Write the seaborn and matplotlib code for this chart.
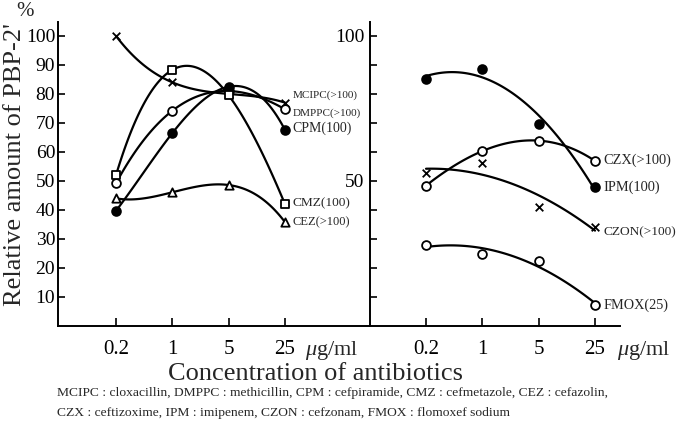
import numpy as np
import pandas as pd
import matplotlib
matplotlib.use("Agg")
import matplotlib.pyplot as plt
import seaborn as sns

# ---------------- data ----------------
conc = [0.2, 1, 5, 25]
conc_labels = ["0.2", "1", "5", "25"]

# left panel
mcipc = [100.0, 84.0, 80.0, 77.0]
dmppc = [49.2, 74.2, 81.0, 74.7]
cpm = [39.7, 66.5, 82.5, 67.6]
cmz = [52.0, 88.3, 79.5, 42.0]
cez = [44.0, 46.1, 48.6, 35.8]

# right panel
ipm = [85.2, 88.6, 69.7, 47.8]
czx = [48.4, 60.3, 63.9, 56.9]
czon = [52.9, 56.1, 41.1, 34.2]
fmox = [27.9, 24.8, 22.4, 7.2]

left_names = ["MCIPC(>100)", "DMPPC(>100)", "CPM(100)", "CMZ(100)", "CEZ(>100)"]
right_names = ["CZX(>100)", "IPM(100)", "CZON(>100)", "FMOX(25)"]

yticks = [10, 20, 30, 40, 50, 60, 70, 80, 90, 100]

footnote1 = ("MCIPC : cloxacillin, DMPPC : methicillin, CPM : cefpiramide, "
             "CMZ : cefmetazole, CEZ : cefazolin,")
footnote2 = "CZX : ceftizoxime, IPM : imipenem, CZON : cefzonam, FMOX : flomoxef sodium"

# ---------------- style ----------------
sns.set_theme(style="ticks")
plt.rcParams["font.family"] = ["Liberation Serif", "DejaVu Serif"]
plt.rcParams["mathtext.fontset"] = "custom"
plt.rcParams["mathtext.rm"] = "Liberation Serif"
plt.rcParams["mathtext.it"] = "Liberation Serif:italic"

W, H = 677, 429
fig = plt.figure(figsize=(W / 100, H / 100), dpi=100)
axL = fig.add_axes([58 / W, 103 / H, 312 / W, 304 / H])
axR = fig.add_axes([370 / W, 103 / H, 250 / W, 304 / H])

logc = np.log10(conc)


def draw(ax, vals, marker, face, order, size):
    sns.regplot(x=logc, y=np.array(vals), order=order, ci=None, scatter=False,
                truncate=True, ax=ax,
                line_kws={"color": "black", "lw": 1.6, "zorder": 2})
    if marker == "x":
        ax.scatter(logc, vals, marker="x", s=size, color="black",
                   linewidths=1.3, zorder=3)
    else:
        sns.scatterplot(x=logc, y=vals, marker=marker, s=size, color=face,
                        edgecolor="black", linewidth=1.3, ax=ax, zorder=3,
                        legend=False)


draw(axL, mcipc, "x", "black", 3, 30)
draw(axL, dmppc, "o", "white", 3, 40)
draw(axL, cpm, "o", "black", 3, 40)
draw(axL, cmz, "s", "white", 3, 30)
draw(axL, cez, "^", "white", 3, 36)

draw(axR, ipm, "o", "black", 2, 40)
draw(axR, czx, "o", "white", 3, 40)
draw(axR, czon, "x", "black", 2, 30)
draw(axR, fmox, "o", "white", 2, 40)

# series labels
x25 = np.log10(25)
left_vals = [mcipc, dmppc, cpm, cmz, cez]
left_dy = [5.5, -2.6, 1.5, 0.9, 0.0]
left_fs = [8, 8, 10, 9.6, 9]
for name, v, dy, fs in zip(left_names, left_vals, left_dy, left_fs):
    axL.annotate(name, xy=(x25, v[-1]), xytext=(5.5, dy),
                 textcoords="offset points", ha="left", va="center",
                 fontsize=fs, annotation_clip=False)

right_vals = [czx, ipm, czon, fmox]
right_dy = [0.7, 0.0, -3.7, 0.0]
right_fs = [10.4, 10.4, 9.6, 10.3]
for name, v, dy, fs in zip(right_names, right_vals, right_dy, right_fs):
    axR.annotate(name, xy=(x25, v[-1]), xytext=(6, dy),
                 textcoords="offset points", ha="left", va="center",
                 fontsize=fs, annotation_clip=False)

# axes formatting
for ax, xl in ((axL, (-1.4186, 2.4526)), (axR, (-1.394, 1.708))):
    ax.set_xlim(*xl)
    ax.set_ylim(0, 104.8)
    ax.set_xlabel("")
    ax.set_ylabel("")
    ax.set_xticks(logc)
    ax.set_xticklabels(conc_labels)
    ax.set_yticks(yticks)
    ax.spines["top"].set_visible(False)
    ax.spines["right"].set_visible(False)
    for s in ("left", "bottom"):
        ax.spines[s].set_linewidth(1.4)
        ax.spines[s].set_color("black")
    ax.tick_params(axis="x", direction="in", length=6, width=1.2, pad=10,
                   labelsize=15, colors="black")
    ax.tick_params(axis="y", direction="in", length=5, width=1.2,
                   labelsize=14, colors="black")
    ax.patch.set_alpha(0)

axL.set_yticklabels([str(v) for v in yticks])
axL.tick_params(axis="y", pad=2)
axR.set_yticklabels([str(v) if v in (50, 100) else "" for v in yticks])
axR.tick_params(axis="y", pad=4)

# texts
fig.text(15 / W, 1 - 165 / H, "Relative amount of PBP-2'", rotation=90,
         ha="center", va="center", fontsize=19)
fig.text(25 / W, 1 - 12 / H, "%", ha="center", va="center", fontsize=15)
fig.text(305 / W, 1 - 350 / H, r"$\mu$g/ml", ha="left", va="center", fontsize=16)
fig.text(617 / W, 1 - 350 / H, r"$\mu$g/ml", ha="left", va="center", fontsize=16)
fig.text(315 / W, 1 - 374 / H, "Concentration of antibiotics", ha="center",
         va="center", fontsize=19)
fig.text(57 / W, 1 - 393 / H, footnote1, ha="left", va="center", fontsize=9.7)
fig.text(57 / W, 1 - 413 / H, footnote2, ha="left", va="center", fontsize=9.7)

fig.savefig("out.png", dpi=100)
